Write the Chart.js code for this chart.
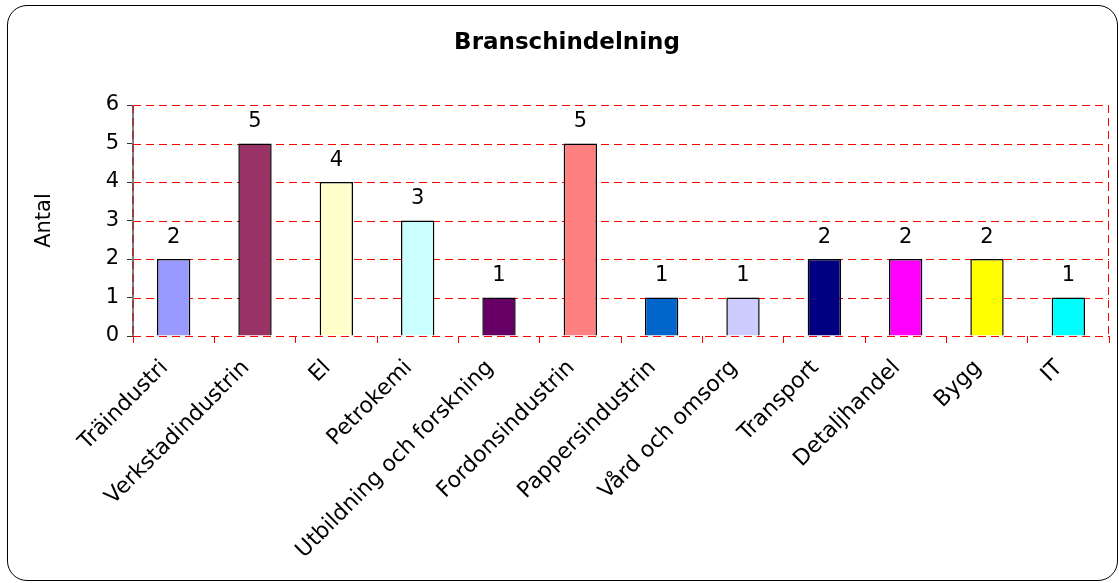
<!DOCTYPE html>
<html>
<head>
<meta charset="utf-8">
<script src="https://cdn.jsdelivr.net/npm/chart.js@4/dist/chart.umd.min.js"></script>
<style>
    body { margin: 0; background: #fff; }
    #wrap { position: relative; width: 1119px; height: 583px; overflow: hidden; }
    #frame { position: absolute; left: 7px; top: 5px; width: 1109px; height: 574px; border: 1px solid #000; border-radius: 20px; }
    canvas { position: absolute; left: 0; top: 0; }
</style>
</head>
<body>
<div id="wrap">
    <div id="frame"></div>
    <canvas id="chart" width="1119" height="583"></canvas>
</div>
<script>
var titel = "Branschindelning";
var branscher = ["Träindustri", "Verkstadindustrin", "El", "Petrokemi", "Utbildning och forskning",
    "Fordonsindustrin", "Pappersindustrin", "Vård och omsorg", "Transport", "Detaljhandel", "Bygg", "IT"];
var antal = [2, 5, 4, 3, 1, 5, 1, 1, 2, 2, 2, 1];
var farger = ["#9999FF", "#993366", "#FFFFCC", "#CCFFFF", "#660066", "#FF8080",
    "#0066CC", "#CCCCFF", "#000080", "#FF00FF", "#FFFF00", "#00FFFF"];
var yTicks = [0, 1, 2, 3, 4, 5, 6];

var FONT = "'DejaVu Sans', Verdana, sans-serif";

// rutnät, axellinjer, titel och värden ovanför staplarna
var extras = {
    id: "extras",
    beforeDatasetsDraw: function(chart) {
        var ctx = chart.ctx;
        var area = chart.chartArea;
        var yScale = chart.scales.y;
        ctx.save();
        ctx.strokeStyle = "#ff0000";
        ctx.lineWidth = 1;
        ctx.setLineDash([8, 5]);
        yTicks.forEach(function(v) {
            var py = Math.round(yScale.getPixelForValue(v)) + 0.5;
            ctx.beginPath();
            ctx.moveTo(area.left, py);
            ctx.lineTo(area.right, py);
            ctx.stroke();
        });
        // streckad högerkant
        ctx.beginPath();
        ctx.moveTo(Math.round(area.right) - 0.5, area.top);
        ctx.lineTo(Math.round(area.right) - 0.5, area.bottom);
        ctx.stroke();

        // y-axel: grå linje med röda streck
        ctx.setLineDash([]);
        ctx.strokeStyle = "#808080";
        ctx.lineWidth = 2;
        ctx.beginPath();
        ctx.moveTo(area.left, area.top);
        ctx.lineTo(area.left, area.bottom);
        ctx.stroke();
        ctx.strokeStyle = "rgba(170,0,0,0.5)";
        ctx.setLineDash([8, 5]);
        ctx.beginPath();
        ctx.moveTo(area.left, area.top);
        ctx.lineTo(area.left, area.bottom);
        ctx.stroke();
        ctx.restore();
    },
    afterDatasetsDraw: function(chart) {
        var ctx = chart.ctx;
        ctx.save();
        ctx.fillStyle = "#000";
        ctx.font = "bold 23px " + FONT;
        ctx.textAlign = "center";
        ctx.textBaseline = "middle";
        ctx.fillText(titel, 567, 43);

        ctx.font = "21px " + FONT;
        ctx.textBaseline = "bottom";
        chart.getDatasetMeta(0).data.forEach(function(bar, i) {
            ctx.fillText(antal[i], bar.x, bar.y - 11);
        });
        ctx.restore();
    }
};

var ctx = document.getElementById("chart").getContext("2d");
var myChart = new Chart(ctx, {
    type: "bar",
    data: {
        labels: branscher,
        datasets: [{
            label: "Antal",
            data: antal,
            backgroundColor: farger,
            borderColor: "#000",
            borderWidth: 1.5,
            barPercentage: 0.41,
            categoryPercentage: 1.0,
        }],
    },
    options: {
        responsive: false,
        animation: false,
        layout: { padding: { left: 0, right: 10, top: 105, bottom: 0 } },
        scales: {
            x: {
                offset: true,
                grid: {
                    offset: true,
                    drawOnChartArea: false,
                    drawTicks: true,
                    tickLength: 7,
                    tickColor: "#ff0000",
                },
                border: { display: false },
                ticks: {
                    color: "#000",
                    font: { family: FONT, size: 22 },
                    minRotation: 45,
                    maxRotation: 45,
                    padding: 12,
                    labelOffset: -9,
                    autoSkip: false,
                },
                afterFit: function(scale) { scale.height = 583 - 336; },
            },
            y: {
                min: 0,
                max: 6,
                afterBuildTicks: function(scale) {
                    scale.ticks = yTicks.map(function(v) { return { value: v }; });
                },
                grid: {
                    drawOnChartArea: false,
                    tickLength: 6,
                    tickColor: "#333",
                },
                border: { display: false },
                ticks: {
                    color: "#000",
                    font: { family: FONT, size: 21 },
                    padding: 8,
                },
                title: {
                    display: true,
                    text: "Antal",
                    color: "#000",
                    font: { family: FONT, size: 21 },
                    padding: { top: 32, bottom: 0 },
                },
                afterFit: function(scale) { scale.width = 133; },
            },
        },
        plugins: {
            legend: { display: false },
            tooltip: { enabled: false },
            title: { display: false },
        },
    },
    plugins: [extras],
});
</script>
</body>
</html>
